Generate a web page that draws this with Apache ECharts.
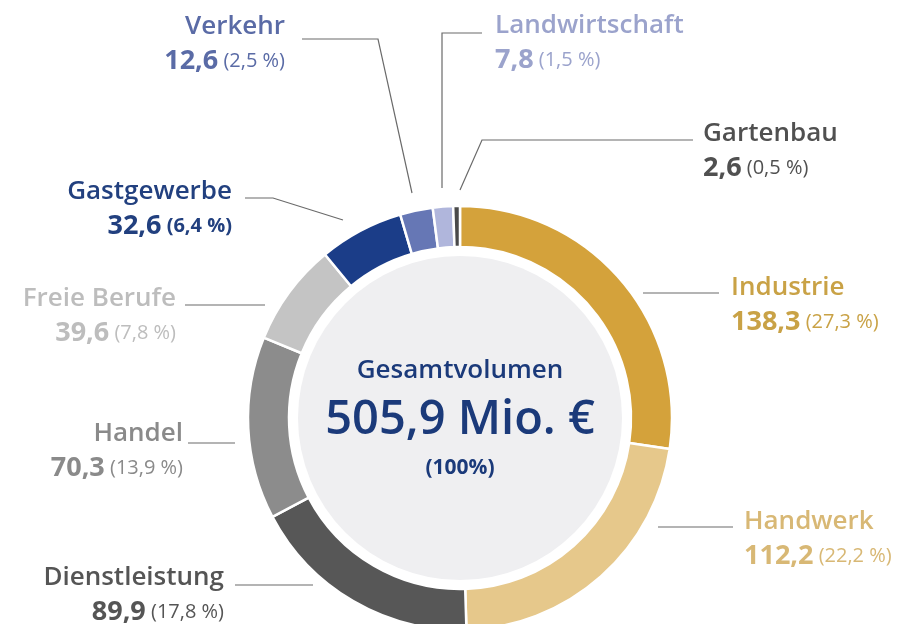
<!DOCTYPE html>
<html>
<head>
<meta charset="utf-8">
<title>Gesamtvolumen</title>
<script src="https://cdn.jsdelivr.net/npm/echarts@6.0.0/dist/echarts.min.js"></script>
<style>
    html, body { margin: 0; padding: 0; background: #fff; }
    #chart { width: 899px; height: 624px; }
</style>
</head>
<body>
<div id="chart"></div>
<script>
var sectors = ['Industrie', 'Handwerk', 'Dienstleistung', 'Handel', 'Freie Berufe', 'Gastgewerbe', 'Verkehr', 'Landwirtschaft', 'Gartenbau'];
var volumes = [138.3, 112.2, 89.9, 70.3, 39.6, 32.6, 12.6, 7.8, 2.6];
var ringColors = ['#d4a23b', '#e6c88b', '#575757', '#8c8c8c', '#c4c4c4', '#1b3d88', '#6677b5', '#b0b6dc', '#4a4a4a'];
var textColors = ['#c9a246', '#d8b875', '#555555', '#8a8a8a', '#bdbdbd', '#22407f', '#5a6ba6', '#9ba3cc', '#505050'];

// label placement: anchor x, middle y, alignment, leader line
var labelSpots = [
    {x: 731, y: 305, align: 'left',  line: [[643, 293], [681, 293], [719, 293]]},
    {x: 744, y: 539, align: 'left',  line: [[658, 527], [695, 527], [733, 527]]},
    {x: 224, y: 595, align: 'right', line: [[313, 585], [274, 585], [235, 585]]},
    {x: 183, y: 451, align: 'right', line: [[235, 443], [211, 443], [188, 443]]},
    {x: 176, y: 316, align: 'right', line: [[265, 305], [225, 305], [185, 305]]},
    {x: 232, y: 209, align: 'right', line: [[343, 220], [273, 198], [245, 198]]},
    {x: 285, y: 44,  align: 'right', line: [[412, 193], [378, 39], [302, 39]]},
    {x: 495, y: 43,  align: 'left',  line: [[442, 188], [442, 33], [482, 33]]},
    {x: 703, y: 151, align: 'left',  line: [[460, 190], [482, 140], [693, 140]]}
];

var boldPercent = ['Gastgewerbe'];

function fmt(v) {
    return v.toFixed(1).replace('.', ',');
}

var total = 0;
for (var i = 0; i < volumes.length; i++) {
    total += volumes[i];
}

var ringData = [];
for (var i = 0; i < sectors.length; i++) {
    ringData.push({
        name: sectors[i],
        value: volumes[i],
        itemStyle: {color: ringColors[i]},
        label: {color: textColors[i]}
    });
}

var font = '"Open Sans", sans-serif';
var chart = echarts.init(document.getElementById('chart'));
var option = {
    backgroundColor: '#ffffff',
    animation: false,
    textStyle: {fontFamily: font},
    series: [
        {
            // hellgraue Scheibe in der Mitte
            type: 'pie',
            silent: true,
            center: [460, 418],
            radius: [0, 162],
            itemStyle: {color: '#efeff1'},
            label: {
                show: true,
                position: 'center',
                color: '#1b3a7a',
                formatter: function () {
                    return '{a|Gesamtvolumen}\n{b|' + fmt(total) + ' Mio. €}\n{c|(100%)}';
                },
                rich: {
                    a: {fontSize: 26, fontWeight: 600, lineHeight: 44, fontFamily: font},
                    b: {fontSize: 47, fontWeight: 600, lineHeight: 56, fontFamily: font},
                    c: {fontSize: 21, fontWeight: 700, lineHeight: 38, fontFamily: font}
                }
            },
            labelLine: {show: false},
            data: [{name: 'Gesamtvolumen', value: total}]
        },
        {
            type: 'pie',
            center: [460, 418],
            radius: [171, 212],
            startAngle: 90,
            clockwise: true,
            avoidLabelOverlap: false,
            itemStyle: {borderColor: '#ffffff', borderWidth: 2.5},
            emphasis: {disabled: true},
            label: {
                show: true,
                position: 'outside',
                formatter: function (p) {
                    var pct = Math.round(p.value / total * 1000) / 10;
                    var pStyle = boldPercent.indexOf(p.name) !== -1 ? 'pb' : 'p';
                    return '{n|' + p.name + '}\n{v|' + fmt(p.value) + '}{' + pStyle + '| (' + fmt(pct) + ' %)}';
                },
                rich: {
                    n: {fontSize: 26, fontWeight: 600, lineHeight: 34, fontFamily: font},
                    v: {fontSize: 27, fontWeight: 700, lineHeight: 34, fontFamily: font},
                    p: {fontSize: 20, fontWeight: 400, lineHeight: 34, fontFamily: font},
                    pb: {fontSize: 20, fontWeight: 700, lineHeight: 34, fontFamily: font}
                }
            },
            labelLine: {
                show: true,
                lineStyle: {color: '#6a6a6a', width: 1.2}
            },
            labelLayout: function (params) {
                var spot = labelSpots[params.dataIndex];
                return {
                    x: spot.x,
                    y: spot.y,
                    align: spot.align,
                    verticalAlign: 'middle',
                    labelLinePoints: spot.line
                };
            },
            data: ringData
        }
    ]
};
chart.setOption(option);
</script>
</body>
</html>
